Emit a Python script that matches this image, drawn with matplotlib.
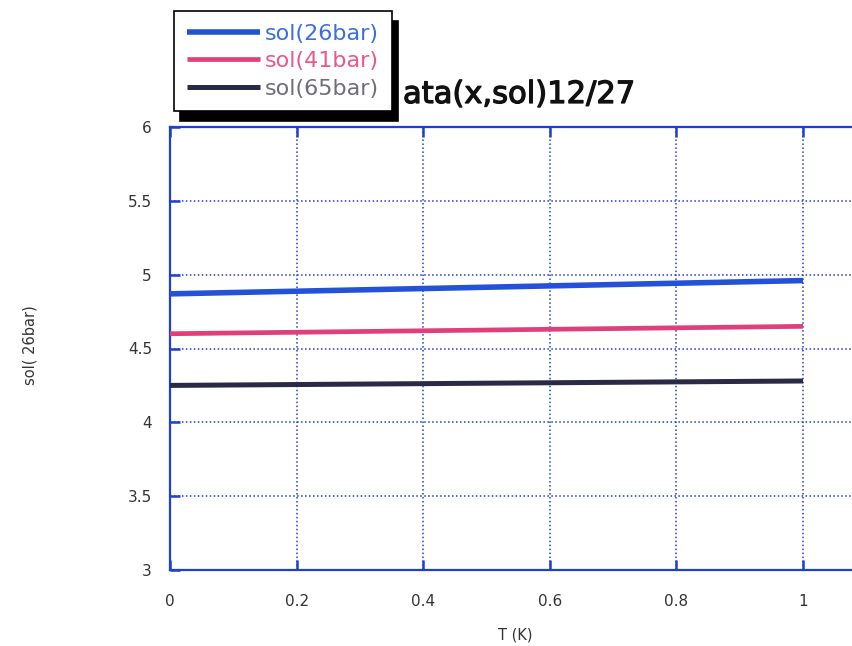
import matplotlib
matplotlib.use("Agg")
import matplotlib.pyplot as plt
import matplotlib.patheffects as pe

# ---- data ----
x_vals = [0.0, 1.0]
sol_26bar = [4.87, 4.96]
sol_41bar = [4.60, 4.65]
sol_65bar = [4.25, 4.28]
series_labels = ["sol(26bar)", "sol(41bar)", "sol(65bar)"]
line_colors = ["#2352d8", "#e0407a", "#2a2a48"]
text_colors = ["#3a6ee0", "#e8588c", "#6e6e78"]
x_ticks = [0, 0.2, 0.4, 0.6, 0.8, 1.0]
x_tick_labels = ["0", "0.2", "0.4", "0.6", "0.8", "1"]
y_ticks = [3, 3.5, 4, 4.5, 5, 5.5, 6]
y_tick_labels = ["3", "3.5", "4", "4.5", "5", "5.5", "6"]
title_text = "ata(x,sol)12/27"
x_label = "T (K)"
y_label = "sol( 26bar)"

W, H = 852, 646
fig = plt.figure(figsize=(W / 100, H / 100), dpi=100)
fig.patch.set_facecolor("white")

ax_left, ax_right, ax_top, ax_bottom = 170, 852, 127, 570
ax = fig.add_axes([ax_left / W, 1 - ax_bottom / H,
                   (ax_right - ax_left) / W, (ax_bottom - ax_top) / H])

blue = "#1e3fd0"
ax.set_xlim(0, (ax_right - ax_left) / 633.0)
ax.set_ylim(3, 6)

for spine in ["left", "bottom", "top"]:
    ax.spines[spine].set_color(blue)
    ax.spines[spine].set_linewidth(1.6)
ax.spines["right"].set_visible(False)

ax.set_xticks(x_ticks)
ax.set_xticklabels(x_tick_labels)
ax.set_yticks(y_ticks)
ax.set_yticklabels(y_tick_labels)
ax.tick_params(axis="both", direction="in", length=7, width=1.8, color=blue,
               labelsize=11, labelcolor="#333333")
ax.tick_params(axis="x", top=True, pad=17)
ax.tick_params(axis="y", pad=13)

ax.grid(True, color=blue, linestyle=(0, (1, 1.6)), linewidth=1.1)
ax.set_axisbelow(True)

series = [sol_26bar, sol_41bar, sol_65bar]
lws = [4.0, 3.4, 3.6]
handles = []
for vals, lab, col, lw in zip(series, series_labels, line_colors, lws):
    h, = ax.plot(x_vals, vals, color=col, linewidth=lw, label=lab,
                 solid_capstyle="butt", zorder=3, clip_on=False)
    handles.append(h)

# title (partly hidden by legend)
fig.text(403 / W, 1 - 103 / H, title_text, fontsize=22, color="#111111",
         ha="left", va="baseline",
         path_effects=[pe.withStroke(linewidth=0.9, foreground="#111111")])

fig.text(30 / W, 1 - 345 / H, y_label, rotation=90, fontsize=10.5,
         color="#333333", ha="center", va="center")
fig.text(515 / W, 1 - 635 / H, x_label, fontsize=10.5, color="#333333",
         ha="center", va="center")

leg = fig.legend(handles=handles, labels=series_labels, loc="upper left",
                 bbox_to_anchor=(174 / W, 1 - 11 / H), borderaxespad=0,
                 fontsize=16, handlelength=3.3, handletextpad=0.22,
                 labelspacing=0.33, borderpad=0.58, fancybox=False,
                 framealpha=1, edgecolor="black",
                 shadow={"ox": 4.5, "oy": -7.0, "facecolor": "black",
                         "edgecolor": "black", "alpha": 1})
leg.get_frame().set_linewidth(1.2)
for t, c in zip(leg.get_texts(), text_colors):
    t.set_color(c)
leg.set_zorder(10)

fig.savefig("out.png", dpi=100)
